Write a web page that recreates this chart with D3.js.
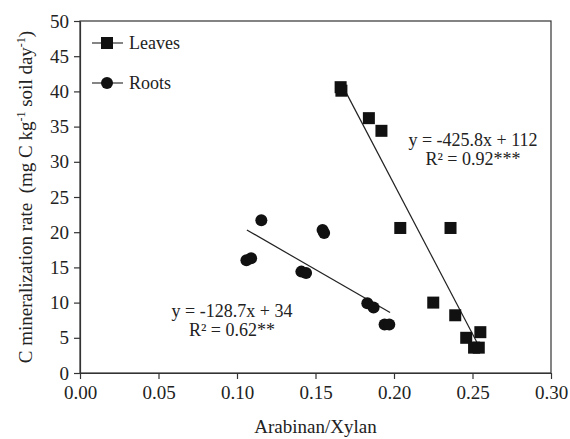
<!DOCTYPE html>
<html>
<head>
<meta charset="utf-8">
<script src="https://cdn.jsdelivr.net/npm/d3@7"></script>
<style>
  body { margin: 0; background: #fff; }
  text { font-family: "Liberation Serif", "Times New Roman", serif; fill: #222; white-space: pre; }
</style>
</head>
<body>
<div id="chart"></div>
<script>
// Leaves: Arabinan/Xylan vs C mineralization rate
var leavesX = [0.166, 0.1665, 0.184, 0.192, 0.204, 0.236, 0.225, 0.239, 0.255, 0.246, 0.251, 0.254];
var leavesY = [40.6, 40.1, 36.2, 34.4, 20.6, 20.6, 10.0, 8.2, 5.8, 5.0, 3.6, 3.6];
// Roots
var rootsX = [0.106, 0.109, 0.1155, 0.141, 0.144, 0.1545, 0.1555, 0.183, 0.187, 0.194, 0.197];
var rootsY = [16.0, 16.3, 21.7, 14.4, 14.2, 20.3, 19.9, 9.9, 9.3, 6.9, 6.9];

// regression fits: [slope, intercept, xStart, xEnd]
var leavesFit = [-425.8, 112, 0.1695, 0.2527];
var rootsFit = [-128.7, 34, 0.1063, 0.1975];
var leavesEq = ["y = -425.8x + 112", "R² = 0.92***"];
var rootsEq = ["y = -128.7x + 34", "R² = 0.62**"];

var xTicks = [0, 0.05, 0.10, 0.15, 0.20, 0.25, 0.30];
var yTicks = [0, 5, 10, 15, 20, 25, 30, 35, 40, 45, 50];

var margin = { top: 21, right: 19, bottom: 66, left: 80 },
    width = 570 - margin.left - margin.right,
    height = 439 - margin.top - margin.bottom;

var svg = d3.select("#chart")
    .append("svg")
    .attr("width", 570)
    .attr("height", 439)
    .append("g")
    .attr("transform", "translate(" + margin.left + "," + margin.top + ")");

var x = d3.scaleLinear().domain([0, 0.30]).range([0, width]);
var y = d3.scaleLinear().domain([0, 50]).range([height, 0]);

// frame
svg.append("rect")
    .attr("width", width).attr("height", height)
    .attr("fill", "none").attr("stroke", "#333").attr("stroke-width", 1.2);

var xAxis = svg.append("g")
    .attr("transform", "translate(0," + height + ")")
    .call(d3.axisBottom(x).tickValues(xTicks).tickFormat(d3.format(".2f")).tickSize(6).tickSizeOuter(0));
var yAxis = svg.append("g")
    .call(d3.axisLeft(y).tickValues(yTicks).tickSize(6).tickSizeOuter(0));

[xAxis, yAxis].forEach(function (a) {
    a.select(".domain").attr("stroke", "#333").attr("stroke-width", 1.2);
    a.selectAll(".tick line").attr("stroke", "#333").attr("stroke-width", 1.2);
    a.selectAll("text").style("font-size", "19px").attr("fill", "#222");
});
xAxis.selectAll("text").attr("dy", "0.9em");
yAxis.selectAll("text").attr("x", -11);

// axis titles
svg.append("text")
    .attr("x", width / 2).attr("y", height + 60)
    .attr("text-anchor", "middle")
    .style("font-size", "19px")
    .text("Arabinan/Xylan");

var yt = svg.append("text")
    .attr("transform", "translate(" + (-48) + "," + (height / 2) + ")rotate(-90)")
    .attr("text-anchor", "middle")
    .style("font-size", "19px");
yt.append("tspan").text("C mineralization rate  (mg C kg");
yt.append("tspan").attr("dy", -7).style("font-size", "12px").text("-1");
yt.append("tspan").attr("dy", 7).text(" soil day");
yt.append("tspan").attr("dy", -7).style("font-size", "12px").text("-1");
yt.append("tspan").attr("dy", 7).text(")");

// regression lines
function fitLine(f) {
    return [[f[2], f[0] * f[2] + f[1]], [f[3], f[0] * f[3] + f[1]]];
}
[leavesFit, rootsFit].forEach(function (f) {
    svg.append("path")
        .datum(fitLine(f))
        .attr("fill", "none")
        .attr("stroke", "#222")
        .attr("stroke-width", 1.2)
        .attr("d", d3.line().x(function (d) { return x(d[0]); }).y(function (d) { return y(d[1]); }));
});

// points
var leaves = leavesX.map(function (v, i) { return { x: v, y: leavesY[i] }; });
var roots = rootsX.map(function (v, i) { return { x: v, y: rootsY[i] }; });

svg.selectAll(".root")
    .data(roots)
    .enter().append("circle")
    .attr("class", "root")
    .attr("cx", function (d) { return x(d.x); })
    .attr("cy", function (d) { return y(d.y); })
    .attr("r", 6)
    .attr("fill", "#111");

svg.selectAll(".leaf")
    .data(leaves)
    .enter().append("rect")
    .attr("class", "leaf")
    .attr("x", function (d) { return x(d.x) - 6; })
    .attr("y", function (d) { return y(d.y) - 6; })
    .attr("width", 12).attr("height", 12)
    .attr("fill", "#111");

// equations
function eq(lines, cx, by) {
    lines.forEach(function (t, i) {
        svg.append("text")
            .attr("x", cx).attr("y", by + i * 19)
            .attr("text-anchor", "middle")
            .style("font-size", "18px")
            .text(t);
    });
}
eq(leavesEq, 473 - margin.left, 146 - margin.top);
eq(rootsEq, 232 - margin.left, 317 - margin.top);

// legend
var legend = [{ name: "Leaves", shape: "square" }, { name: "Roots", shape: "circle" }];
var lg = svg.selectAll(".lg")
    .data(legend)
    .enter().append("g")
    .attr("transform", function (d, i) { return "translate(" + (107 - margin.left) + "," + (43 - margin.top + i * 40) + ")"; });
lg.append("line").attr("x1", -15).attr("x2", 16).attr("stroke", "#333").attr("stroke-width", 1.2);
lg.filter(function (d) { return d.shape === "square"; })
    .append("rect").attr("x", -6).attr("y", -6).attr("width", 12).attr("height", 12).attr("fill", "#111");
lg.filter(function (d) { return d.shape === "circle"; })
    .append("circle").attr("r", 6).attr("fill", "#111");
lg.append("text")
    .attr("x", 22).attr("y", 6)
    .style("font-size", "18px")
    .text(function (d) { return d.name; });
</script>
</body>
</html>
